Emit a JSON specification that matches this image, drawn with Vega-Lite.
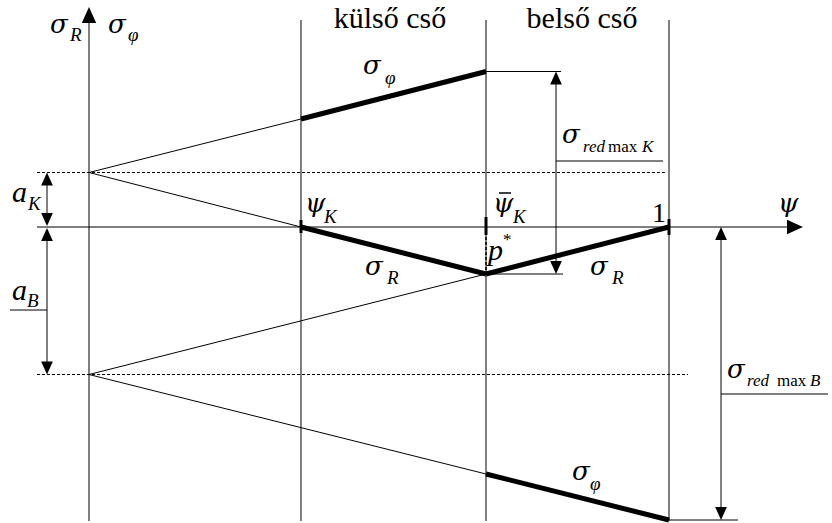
{
  "$schema": "https://vega.github.io/schema/vega-lite/v6.json",
  "width": 832,
  "height": 523,
  "padding": 0,
  "autosize": {"type": "none"},
  "config": {"view": {"stroke": null}},
  "data": {"values": [
    {"g": "line", "kind": "axis", "x1": 0, "y1": -2.94, "x2": 0, "y2": 2.15},
    {"g": "line", "kind": "axis", "x1": -0.0897, "y1": 0, "x2": 1.22, "y2": 0},
    {"g": "line", "kind": "boundary", "x1": 0.3655, "y1": 2.07, "x2": 0.3655, "y2": -2.94},
    {"g": "line", "kind": "boundary", "x1": 0.6845, "y1": 2.07, "x2": 0.6845, "y2": -2.94},
    {"g": "line", "kind": "boundary", "x1": 1.0, "y1": 2.07, "x2": 1.0, "y2": -2.94},
    {"g": "line", "kind": "construction", "x1": 0, "y1": 0.545, "x2": 0.3655, "y2": 1.08},
    {"g": "line", "kind": "construction", "x1": 0, "y1": 0.545, "x2": 0.3655, "y2": 0},
    {"g": "line", "kind": "construction", "x1": 0, "y1": -1.475, "x2": 0.6845, "y2": -0.47},
    {"g": "line", "kind": "construction", "x1": 0, "y1": -1.475, "x2": 0.6845, "y2": -2.47},
    {"g": "line", "kind": "dim", "x1": 0.6845, "y1": 1.555, "x2": 0.8138, "y2": 1.555},
    {"g": "line", "kind": "dim", "x1": 0.6845, "y1": -0.47, "x2": 0.8172, "y2": -0.47},
    {"g": "line", "kind": "dim", "x1": 0.8052, "y1": 1.45, "x2": 0.8052, "y2": -0.37},
    {"g": "line", "kind": "dim", "x1": 0.8052, "y1": 0.66, "x2": 0.9897, "y2": 0.66},
    {"g": "line", "kind": "dim", "x1": 1.0897, "y1": -0.1, "x2": 1.0897, "y2": -2.83},
    {"g": "line", "kind": "dim", "x1": 1.0, "y1": -2.93, "x2": 1.119, "y2": -2.93},
    {"g": "line", "kind": "dim", "x1": 1.0897, "y1": -1.67, "x2": 1.2741, "y2": -1.67},
    {"g": "line", "kind": "dim", "x1": -0.0724, "y1": 0.45, "x2": -0.0724, "y2": 0.1},
    {"g": "line", "kind": "dim", "x1": -0.0724, "y1": -0.1, "x2": -0.0724, "y2": -1.38},
    {"g": "line", "kind": "dim", "x1": -0.1362, "y1": -0.83, "x2": -0.0724, "y2": -0.83},
    {"g": "level", "x1": -0.0897, "y1": 0.545, "x2": 0.9931, "y2": 0.545},
    {"g": "level", "x1": -0.0897, "y1": -1.475, "x2": 1.0328, "y2": -1.475},
    {"g": "pstar", "x1": 0.6845, "y1": 0, "x2": 0.6845, "y2": -0.47},
    {"g": "tick", "x1": 0.3655, "y1": 0.07, "x2": 0.3655, "y2": -0.06},
    {"g": "tick", "x1": 0.6845, "y1": 0.1, "x2": 0.6845, "y2": -0.08},
    {"g": "tick", "x1": 1.0, "y1": 0.08, "x2": 1.0, "y2": -0.08},
    {"g": "overbar", "x1": 0.7069, "y1": 0.34, "x2": 0.7276, "y2": 0.34},
    {"g": "stress", "x1": 0.3655, "y1": 1.08, "x2": 0.6845, "y2": 1.555},
    {"g": "stress", "x1": 0.3655, "y1": 0, "x2": 0.6845, "y2": -0.47},
    {"g": "stress", "x1": 0.6845, "y1": -0.47, "x2": 1.0, "y2": 0},
    {"g": "stress", "x1": 0.6845, "y1": -2.47, "x2": 1.0, "y2": -2.93},
    {"g": "arrow", "kind": "axis", "dir": "up", "x1": 0, "y1": 2.2},
    {"g": "arrow", "kind": "axis", "dir": "right", "x1": 1.231, "y1": 0},
    {"g": "arrow", "kind": "dim", "dir": "up", "x1": 0.8052, "y1": 1.555},
    {"g": "arrow", "kind": "dim", "dir": "down", "x1": 0.8052, "y1": -0.47},
    {"g": "arrow", "kind": "dim", "dir": "up", "x1": 1.0897, "y1": 0},
    {"g": "arrow", "kind": "dim", "dir": "down", "x1": 1.0897, "y1": -2.93},
    {"g": "arrow", "kind": "dim", "dir": "up", "x1": -0.0724, "y1": 0.545},
    {"g": "arrow", "kind": "dim", "dir": "down", "x1": -0.0724, "y1": 0.01},
    {"g": "arrow", "kind": "dim", "dir": "up", "x1": -0.0724, "y1": -0.01},
    {"g": "arrow", "kind": "dim", "dir": "down", "x1": -0.0724, "y1": -1.475},
    {"g": "greek", "x1": -0.0672, "y1": 1.94, "t": "σ"},
    {"g": "greek", "x1": 0.0328, "y1": 1.94, "t": "σ"},
    {"g": "greek", "x1": 0.4724, "y1": 1.53, "t": "σ"},
    {"g": "greek", "x1": 0.3724, "y1": 0.15, "t": "ψ"},
    {"g": "greek", "x1": 0.6966, "y1": 0.15, "t": "ψ"},
    {"g": "greek", "x1": 1.1879, "y1": 0.15, "t": "ψ"},
    {"g": "greek", "x1": 0.4759, "y1": -0.48, "t": "σ"},
    {"g": "greek", "x1": 0.8638, "y1": -0.48, "t": "σ"},
    {"g": "greek", "x1": 0.8155, "y1": 0.84, "t": "σ"},
    {"g": "greek", "x1": 1.1, "y1": -1.51, "t": "σ"},
    {"g": "greek", "x1": 0.8328, "y1": -2.53, "t": "σ"},
    {"g": "latin", "x1": 0.6879, "y1": -0.33, "t": "p"},
    {"g": "latin", "x1": -0.1328, "y1": 0.25, "t": "a"},
    {"g": "latin", "x1": -0.1328, "y1": -0.73, "t": "a"},
    {"g": "sub", "x1": -0.0328, "y1": 1.86, "t": "R"},
    {"g": "sub", "x1": 0.0672, "y1": 1.86, "t": "φ"},
    {"g": "sub", "x1": 0.5103, "y1": 1.43, "t": "φ"},
    {"g": "sub", "x1": 0.4052, "y1": 0.04, "t": "K"},
    {"g": "sub", "x1": 0.731, "y1": 0.04, "t": "K"},
    {"g": "sub", "x1": 0.5138, "y1": -0.57, "t": "R"},
    {"g": "sub", "x1": 0.9017, "y1": -0.57, "t": "R"},
    {"g": "sub", "x1": 0.8638, "y1": -2.63, "t": "φ"},
    {"g": "sub", "x1": -0.1052, "y1": 0.17, "t": "K"},
    {"g": "sub", "x1": -0.1069, "y1": -0.8, "t": "B"},
    {"g": "subSmall", "x1": 0.8517, "y1": 0.75, "t": "red"},
    {"g": "subSmall", "x1": 0.9534, "y1": 0.75, "t": "K"},
    {"g": "subSmall", "x1": 1.1345, "y1": -1.59, "t": "red"},
    {"g": "subSmall", "x1": 1.2431, "y1": -1.59, "t": "B"},
    {"g": "subUpright", "x1": 0.8948, "y1": 0.75, "t": "max"},
    {"g": "subUpright", "x1": 1.1862, "y1": -1.59, "t": "max"},
    {"g": "subUpright", "x1": 0.7138, "y1": -0.18, "t": "*"},
    {"g": "word", "x1": 0.519, "y1": 1.99, "t": "külső  cső"},
    {"g": "word", "x1": 0.85, "y1": 1.99, "t": "belső  cső"},
    {"g": "number", "x1": 0.9828, "y1": 0.05, "t": "1"}
  ]},
  "encoding": {
    "x": {"field": "x1", "type": "quantitative", "scale": {"domain": [-0.15345, 1.28103], "nice": false, "zero": false}, "axis": null},
    "y": {"field": "y1", "type": "quantitative", "scale": {"domain": [-2.96, 2.27], "nice": false, "zero": false}, "axis": null}
  },
  "layer": [
    {
      "transform": [{"filter": "datum.g === 'line'"}],
      "mark": {"type": "rule", "color": "black", "strokeWidth": 1},
      "encoding": {"x2": {"field": "x2"}, "y2": {"field": "y2"}}
    },
    {
      "transform": [{"filter": "datum.g === 'level'"}],
      "mark": {"type": "rule", "color": "black", "strokeWidth": 1, "strokeDash": [3, 2]},
      "encoding": {"x2": {"field": "x2"}, "y2": {"field": "y2"}}
    },
    {
      "transform": [{"filter": "datum.g === 'pstar'"}],
      "mark": {"type": "rule", "color": "black", "strokeWidth": 1.5, "strokeDash": [3, 2]},
      "encoding": {"x2": {"field": "x2"}, "y2": {"field": "y2"}}
    },
    {
      "transform": [{"filter": "datum.g === 'tick'"}],
      "mark": {"type": "rule", "color": "black", "strokeWidth": 3},
      "encoding": {"x2": {"field": "x2"}, "y2": {"field": "y2"}}
    },
    {
      "transform": [{"filter": "datum.g === 'overbar'"}],
      "mark": {"type": "rule", "color": "black", "strokeWidth": 1.5},
      "encoding": {"x2": {"field": "x2"}, "y2": {"field": "y2"}}
    },
    {
      "transform": [{"filter": "datum.g === 'stress'"}],
      "mark": {"type": "rule", "color": "black", "strokeWidth": 5, "strokeCap": "butt"},
      "encoding": {"x2": {"field": "x2"}, "y2": {"field": "y2"}}
    },
    {
      "transform": [{"filter": "datum.g === 'arrow'"}],
      "mark": {"type": "point", "filled": true, "color": "black", "opacity": 1, "strokeWidth": 0},
      "encoding": {
        "shape": {
          "field": "dir", "type": "nominal", "legend": null,
          "scale": {"domain": ["up", "down", "right"], "range": ["M0,0L0.45,1L-0.45,1Z", "M0,0L0.45,-1L-0.45,-1Z", "M0,0L-1,0.45L-1,-0.45Z"]}
        },
        "size": {
          "field": "kind", "type": "nominal", "legend": null,
          "scale": {"domain": ["axis", "dim"], "range": [1024, 676]}
        }
      }
    },
    {
      "transform": [{"filter": "datum.g === 'greek'"}],
      "mark": {"type": "text", "font": "DejaVu Serif", "fontStyle": "italic", "fontSize": 26, "align": "left", "baseline": "alphabetic"},
      "encoding": {"text": {"field": "t"}}
    },
    {
      "transform": [{"filter": "datum.g === 'latin'"}],
      "mark": {"type": "text", "font": "Liberation Serif", "fontStyle": "italic", "fontSize": 30, "align": "left", "baseline": "alphabetic"},
      "encoding": {"text": {"field": "t"}}
    },
    {
      "transform": [{"filter": "datum.g === 'sub'"}],
      "mark": {"type": "text", "font": "Liberation Serif", "fontStyle": "italic", "fontSize": 19, "align": "left", "baseline": "alphabetic"},
      "encoding": {"text": {"field": "t"}}
    },
    {
      "transform": [{"filter": "datum.g === 'subSmall'"}],
      "mark": {"type": "text", "font": "Liberation Serif", "fontStyle": "italic", "fontSize": 17, "align": "left", "baseline": "alphabetic"},
      "encoding": {"text": {"field": "t"}}
    },
    {
      "transform": [{"filter": "datum.g === 'subUpright'"}],
      "mark": {"type": "text", "font": "Liberation Serif", "fontSize": 17, "align": "left", "baseline": "alphabetic"},
      "encoding": {"text": {"field": "t"}}
    },
    {
      "transform": [{"filter": "datum.g === 'word'"}],
      "mark": {"type": "text", "font": "Liberation Serif", "fontSize": 30, "align": "center", "baseline": "alphabetic"},
      "encoding": {"text": {"field": "t"}}
    },
    {
      "transform": [{"filter": "datum.g === 'number'"}],
      "mark": {"type": "text", "font": "Liberation Serif", "fontSize": 28, "align": "center", "baseline": "alphabetic"},
      "encoding": {"text": {"field": "t"}}
    }
  ]
}
